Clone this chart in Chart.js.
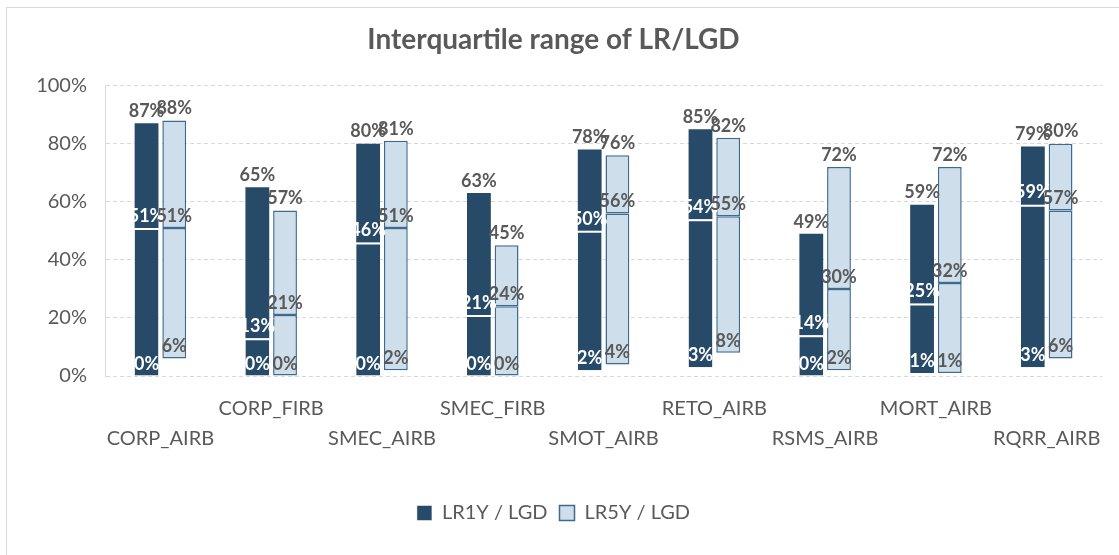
<!DOCTYPE html>
<html>
<head>
<meta charset="utf-8">
<script src="https://cdn.jsdelivr.net/npm/chart.js@4"></script>
<style>
  html, body { margin: 0; padding: 0; background: #fff; }
  #wrap { position: relative; width: 1119px; height: 555px; overflow: hidden; }
  #frame { position: absolute; left: 6px; top: 7px; width: 1130px; height: 560px; border: 1px solid #d9d9d9; }
  canvas { position: absolute; left: 0; top: 0; }
</style>
</head>
<body>
<div id="wrap">
  <div id="frame"></div>
  <canvas id="chart" width="1119" height="555"></canvas>
</div>
<script>
// data (percent)
const categories = ['CORP_AIRB', 'CORP_FIRB', 'SMEC_AIRB', 'SMEC_FIRB', 'SMOT_AIRB', 'RETO_AIRB', 'RSMS_AIRB', 'MORT_AIRB', 'RQRR_AIRB'];
const lr1yMin = [0, 0, 0, 0, 2, 3, 0, 1, 3];
const lr1yMedian = [51, 13, 46, 21, 50, 54, 14, 25, 59];
const lr1yMax = [87, 65, 80, 63, 78, 85, 49, 59, 79];
const lr5yMin = [6, 0, 2, 0, 4, 8, 2, 1, 6];
const lr5yMedian = [51, 21, 51, 24, 56, 55, 30, 32, 57];
const lr5yMax = [88, 57, 81, 45, 76, 82, 72, 72, 80];
const yTicks = [0, 20, 40, 60, 80, 100];

const dark = '#264a67';
const light = '#cfdeeb';
const lightEdge = '#3d6a8f';
const grey = '#595959';
const fontFamily = 'Lato, "DejaVu Sans", sans-serif';

// min / median / max labels, placed just above each value
const series = [
    { index: 0, min: lr1yMin, median: lr1yMedian, max: lr1yMax, inner: '#ffffff' },
    { index: 2, min: lr5yMin, median: lr5yMedian, max: lr5yMax, inner: grey }
];

const valueLabels = {
    id: 'valueLabels',
    afterDatasetsDraw(chart) {
        const ctx = chart.ctx;
        const yScale = chart.scales.y;
        ctx.save();
        ctx.font = 'bold 18px ' + fontFamily;
        ctx.textAlign = 'center';
        ctx.textBaseline = 'middle';
        series.forEach(s => {
            chart.getDatasetMeta(s.index).data.forEach((bar, i) => {
                const items = [[s.min[i], s.inner], [s.median[i], s.inner], [s.max[i], grey]];
                items.forEach(([v, color]) => {
                    ctx.fillStyle = color;
                    ctx.fillText(v + '%', bar.x, yScale.getPixelForValue(v) - 12);
                });
            });
        });
        ctx.restore();
    }
};

const ctx = document.getElementById('chart').getContext('2d');
new Chart(ctx, {
    type: 'bar',
    data: {
        labels: categories,
        datasets: [
            {
                label: 'LR1Y / LGD',
                data: lr1yMin.map((v, i) => [v, lr1yMedian[i]]),
                backgroundColor: dark,
                borderColor: '#ffffff',
                borderWidth: { top: 2, right: 0, bottom: 0, left: 0 },
                borderSkipped: false,
                stack: 'lr1y'
            },
            {
                label: 'LR1Y / LGD',
                data: lr1yMedian.map((v, i) => [v, lr1yMax[i]]),
                backgroundColor: dark,
                borderWidth: 0,
                stack: 'lr1y'
            },
            {
                label: 'LR5Y / LGD',
                data: lr5yMin.map((v, i) => [v, lr5yMedian[i]]),
                backgroundColor: light,
                borderColor: lightEdge,
                borderWidth: 1.5,
                borderSkipped: false,
                stack: 'lr5y'
            },
            {
                label: 'LR5Y / LGD',
                data: lr5yMedian.map((v, i) => [v, lr5yMax[i]]),
                backgroundColor: light,
                borderColor: lightEdge,
                borderWidth: 1.5,
                borderSkipped: false,
                stack: 'lr5y'
            }
        ]
    },
    options: {
        responsive: false,
        animation: false,
        categoryPercentage: 0.5,
        barPercentage: 0.86,
        layout: { padding: { left: 0, right: 12, top: 0, bottom: 22 } },
        plugins: {
            title: {
                display: true,
                text: 'Interquartile range of LR/LGD',
                color: grey,
                font: { family: fontFamily, size: 28, weight: 'bold' },
                padding: { top: 23, bottom: 29 }
            },
            legend: {
                position: 'bottom',
                labels: {
                    color: grey,
                    font: { family: fontFamily, size: 20 },
                    boxWidth: 15,
                    boxHeight: 15,
                    padding: 12,
                    filter: item => item.datasetIndex % 2 === 0
                }
            },
            tooltip: { enabled: false }
        },
        scales: {
            x: {
                stacked: true,
                grid: { display: false, drawTicks: false },
                border: { display: false },
                ticks: {
                    color: grey,
                    font: { family: fontFamily, size: 20, lineHeight: 1.5 },
                    padding: 18,
                    maxRotation: 0,
                    autoSkip: false,
                    // alternate rows like the original
                    callback: (v, i) => i % 2 === 0 ? ['', categories[i]] : [categories[i]]
                },
                afterFit: s => { s.height = 115; }
            },
            y: {
                stacked: false,
                min: 0,
                max: 100,
                grid: { color: '#d9d9d9', drawTicks: false },
                border: { display: true, color: '#d9d9d9', dash: [4, 3] },
                afterBuildTicks: s => { s.ticks = yTicks.map(v => ({ value: v })); },
                ticks: {
                    color: grey,
                    font: { family: fontFamily, size: 20 },
                    padding: 18,
                    callback: v => v + '%'
                },
                afterFit: s => { s.width = 105; }
            }
        }
    },
    plugins: [valueLabels]
});
</script>
</body>
</html>
